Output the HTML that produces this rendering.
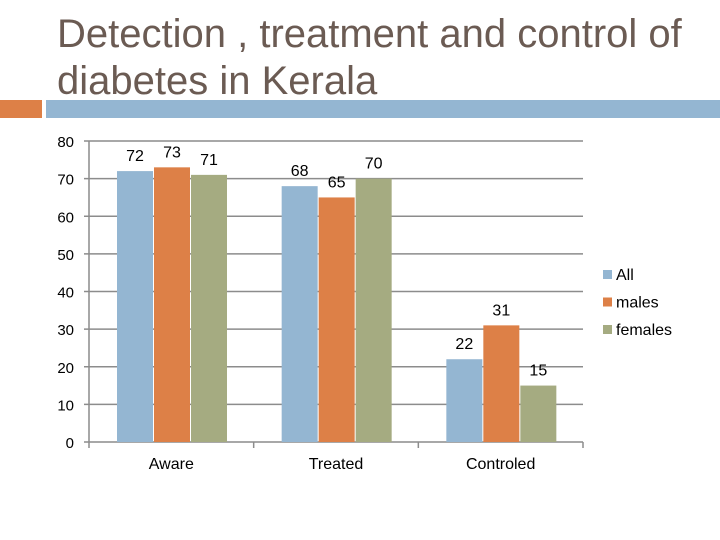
<!DOCTYPE html>
<html><head><meta charset="utf-8"><style>
body{margin:0;width:720px;height:540px;background:#fff;overflow:hidden;font-family:"Liberation Sans",sans-serif}
#t{position:absolute;left:57px;top:11px;font-size:40px;line-height:47px;color:#6b5b53;white-space:nowrap}
</style></head><body>
<div id="t">Detection , treatment and control of<br>diabetes in Kerala</div>
<div style="position:absolute;left:0;top:100px;width:42px;height:18px;background:#dd8047"></div>
<div style="position:absolute;left:46px;top:100px;width:674px;height:18px;background:#94b6d2"></div>
<svg id="c" width="720" height="540" style="position:absolute;left:0;top:0"></svg>
<script>
const categories=["Aware","Treated","Controled"];
const seriesNames=["All","males","females"];
const allVals=[72,68,22];
const malesVals=[73,65,31];
const femalesVals=[71,70,15];
const yTicks=[0,10,20,30,40,50,60,70,80];
const colors=["#94b6d2","#dd8047","#a5ab81"];
const svg=document.getElementById('c');const NS="http://www.w3.org/2000/svg";
const x0=89,x1=583,yB=442,yT=141;
const y=v=>yB-(v/80)*(yB-yT);
const cw=(x1-x0)/categories.length;
function el(t,a,txt){const e=document.createElementNS(NS,t);for(const k in a)e.setAttribute(k,a[k]);if(txt!=null)e.textContent=txt;svg.appendChild(e);return e;}
yTicks.forEach(v=>{
 const g=el('line',{x1:84,x2:x1,y1:y(v),y2:y(v),stroke:'#8c8c8c','stroke-width':1.5});
 
 const t=el('text',{x:74,y:y(v)+6,'text-anchor':'end','font-size':15,fill:'#000'},v);
 
});
const ax=el('line',{x1:x0,x2:x0,y1:yT,y2:yB,stroke:'#8c8c8c','stroke-width':1.5});

for(let i=0;i<=categories.length;i++){const l=el('line',{x1:x0+i*cw,x2:x0+i*cw,y1:yB,y2:yB+6,stroke:'#8c8c8c','stroke-width':1.5});
 }
const series=[allVals,malesVals,femalesVals];
const bw=36,gap=1;
categories.forEach((c,i)=>{
 const start=x0+i*cw+28;
 series.forEach((s,j)=>{
  const bx=start+j*(bw+gap);
  const r=el('rect',{x:bx,y:y(s[i]),width:bw,height:yB-y(s[i]),fill:colors[j]});
  
  const t=el('text',{x:bx+bw/2,y:y(s[i])-10,'text-anchor':'middle','font-size':16,fill:'#000'},s[i]);
  
 });
 const t=el('text',{x:x0+i*cw+cw/2,y:469,'text-anchor':'middle','font-size':16,fill:'#000'},c);
 
});
seriesNames.forEach((n,j)=>{
 const r=el('rect',{x:603,y:270+j*27.5,width:9,height:9,fill:colors[j]});
 
 const t=el('text',{x:616,y:280+j*27.5,'font-size':16,fill:'#000'},n);
 
});
</script>
</body></html>
